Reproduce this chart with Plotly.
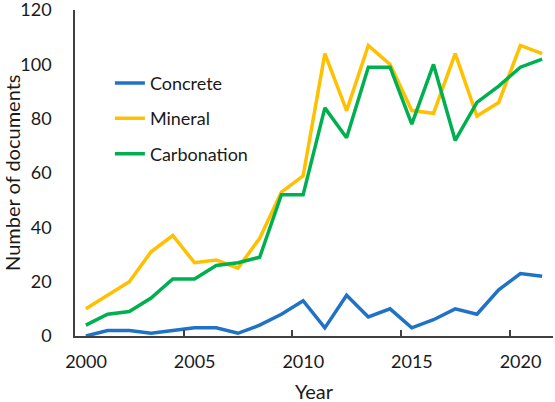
import plotly.graph_objects as go

years = list(range(2000, 2022))
concrete = [0, 2, 2, 1, 2, 3, 3, 1, 4, 8, 13, 3, 15, 7, 10, 3, 6, 10, 8, 17, 23, 22]
mineral = [10, 15, 20, 31, 37, 27, 28, 25, 36, 53, 59, 104, 83, 107, 100, 83, 82, 104, 81, 86, 107, 104]
carbonation = [4, 8, 9, 14, 21, 21, 26, 27, 29, 52, 52, 84, 73, 99, 99, 78, 100, 72, 86, 92, 99, 102]

tick_years = [2000, 2005, 2010, 2015, 2020]
y_ticks = [0, 20, 40, 60, 80, 100, 120]

FONT = "Lato"
TXT = "#1a1a1a"
AX = "#404040"

fig = go.Figure()
series = [("Concrete", concrete, "#1F72C6"),
          ("Mineral", mineral, "#FFC000"),
          ("Carbonation", carbonation, "#00B050")]
for i, (name, vals, col) in enumerate(series):
    fig.add_trace(go.Scatter(x=years, y=vals, mode="lines", name=name,
                             legendgroup=name,
                             line=dict(color=col, width=3.5)))

fig.update_layout(
    width=555, height=402,
    margin=dict(l=75, r=2, t=10, b=66, autoexpand=False),
    paper_bgcolor="white", plot_bgcolor="white",
    font=dict(family=FONT, color=TXT, size=18),
    showlegend=True,
    legend=dict(x=0.073, y=0.832, xanchor="left", yanchor="top",
                bgcolor="rgba(0,0,0,0)", font=dict(size=18, color=TXT),
                tracegroupgap=9, itemwidth=30),
    annotations=[
        dict(text="Number of documents", xref="paper", yref="paper",
             x=-0.132, y=0.5, xanchor="center", yanchor="middle",
             textangle=-90, showarrow=False, font=dict(size=20, color=TXT)),
        dict(text="Year", xref="paper", yref="paper",
             x=0.5, y=-0.17, xanchor="center", yanchor="middle",
             showarrow=False, font=dict(size=20, color=TXT)),
    ],
)
fig.update_xaxes(
    range=[1999.5, 2021.5], automargin=False,
    tickmode="array",
    tickvals=[y - 0.5 for y in tick_years],
    ticktext=[str(y) for y in tick_years],
    ticklabelshift=11, ticklabelstandoff=9, ticklabeloverflow="allow",
    ticks="inside", ticklen=6, tickcolor=AX, tickwidth=1.5,
    showline=True, linecolor=AX, linewidth=1.5,
    showgrid=False, zeroline=False,
    tickfont=dict(size=18, color=TXT),
)
fig.update_yaxes(
    range=[0, 120.05], automargin=False,
    tickmode="array", tickvals=y_ticks,
    ticks="", ticklabelstandoff=18, ticklabeloverflow="allow",
    showline=True, linecolor=AX, linewidth=1.5,
    showgrid=False, zeroline=False,
    tickfont=dict(size=18, color=TXT),
)

fig.write_html("out.html", config={"displayModeBar": False},
               post_script="document.body.style.margin='0';")
